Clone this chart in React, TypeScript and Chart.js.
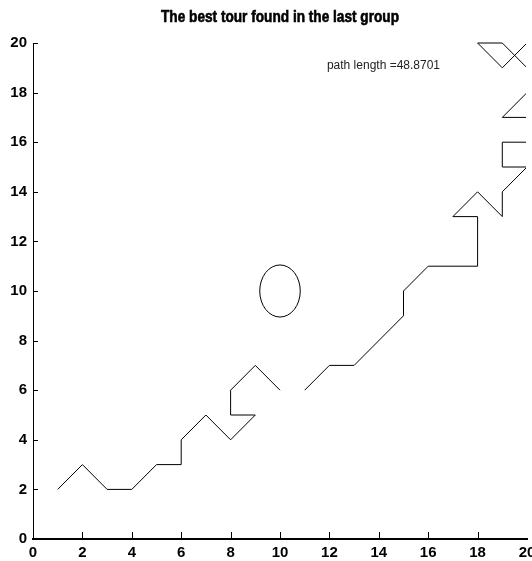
import React, { useEffect, useRef } from "react";
import { Chart, registerables } from "chart.js";

Chart.register(...registerables);

// Tour coordinates (null = break in the drawn path)
const tourX: (number | null)[] = [1, 2, 3, 4, 5, 6, 6, 7, 8, 9, 8, 8, 9, 10, null, 11, 12, 13, 15, 15, 16, 18, 18, 17, 18, 19, 19, 20, 19, 19, 20, 20, 19, 20, 20, 19, 18, 19, 20];
const tourY: (number | null)[] = [2, 3, 2, 2, 3, 3, 4, 5, 4, 5, 5, 6, 7, 6, null, 6, 7, 7, 9, 10, 11, 11, 13, 13, 14, 13, 14, 15, 15, 16, 16, 17, 17, 18, 19, 20, 20, 19, 20];

// Marker ellipse (data units)
const circleCenter = [10, 10];
const circleRadius = [0.82, 1.05];

const xTicks = [0, 2, 4, 6, 8, 10, 12, 14, 16, 18, 20];
const yTicks = [0, 2, 4, 6, 8, 10, 12, 14, 16, 18, 20];

const titleText = "The best tour found in the last group";
const pathLabel = "path length =48.8701";
const pathLabelPos = [11.9, 19.1];

const tickFont = "'Liberation Sans', Arial, sans-serif";

export default function App() {
  const ref = useRef<HTMLCanvasElement | null>(null);

  useEffect(() => {
    const canvas = ref.current;
    if (!canvas) return;

    const points = tourX.map((x, i) => ({ x: x as any, y: tourY[i] as any }));

    const extras = {
      id: "extras",
      afterDatasetsDraw(chart: any) {
        const ctx = chart.ctx;
        const xs = chart.scales.x;
        const ys = chart.scales.y;
        const cx = xs.getPixelForValue(circleCenter[0]);
        const cy = ys.getPixelForValue(circleCenter[1]);
        const rx = Math.abs(xs.getPixelForValue(circleCenter[0] + circleRadius[0]) - cx);
        const ry = Math.abs(ys.getPixelForValue(circleCenter[1] + circleRadius[1]) - cy);
        ctx.save();
        ctx.strokeStyle = "#000";
        ctx.lineWidth = 1;
        ctx.beginPath();
        ctx.ellipse(cx, cy, rx, ry, 0, 0, Math.PI * 2);
        ctx.stroke();
        ctx.restore();
      },
      afterDraw(chart: any) {
        const ctx = chart.ctx;
        const xs = chart.scales.x;
        const ys = chart.scales.y;
        const area = chart.chartArea;
        ctx.save();
        ctx.strokeStyle = "#000";
        ctx.lineWidth = 1;
        xTicks.forEach((v) => {
          if (v === 0 || v === 20) return;
          const px = Math.round(xs.getPixelForValue(v)) + 0.5;
          ctx.beginPath();
          ctx.moveTo(px, area.bottom);
          ctx.lineTo(px, area.bottom - 7);
          ctx.stroke();
        });
        yTicks.forEach((v) => {
          if (v === 0) return;
          const py = Math.round(ys.getPixelForValue(v)) + 0.5;
          ctx.beginPath();
          ctx.moveTo(area.left, py);
          ctx.lineTo(area.left + 5, py);
          ctx.stroke();
        });
        // title, horizontally condensed
        ctx.fillStyle = "#000";
        ctx.font = `bold 16px ${tickFont}`;
        ctx.textAlign = "center";
        ctx.textBaseline = "middle";
        const w = ctx.measureText(titleText).width;
        const sx = 238 / w;
        ctx.save();
        ctx.translate((area.left + area.right) / 2, 18);
        ctx.scale(sx, 1);
        ctx.fillText(titleText, 0, 0);
        ctx.lineWidth = 0.6;
        ctx.strokeStyle = "#000";
        ctx.strokeText(titleText, 0, 0);
        ctx.restore();
        // path length label
        ctx.font = "12px 'Liberation Sans', Arial, sans-serif";
        ctx.textAlign = "left";
        ctx.fillStyle = "#222";
        ctx.fillText(pathLabel, xs.getPixelForValue(pathLabelPos[0]), ys.getPixelForValue(pathLabelPos[1]));
        ctx.restore();
      },
    };

    const chart = new Chart(canvas, {
      type: "scatter",
      data: {
        datasets: [
          {
            data: points,
            showLine: true,
            spanGaps: false,
            borderColor: "#000",
            borderWidth: 1,
            pointRadius: 0,
            fill: false,
            clip: { left: 5, top: 5, right: -1, bottom: 5 },
          },
        ],
      },
      options: {
        responsive: false,
        animation: false,
        layout: { padding: { top: 43, right: 5, left: 0, bottom: 0 } },
        plugins: {
          legend: { display: false },
          tooltip: { enabled: false },
          title: { display: false },
        },
        scales: {
          x: {
            type: "linear",
            min: 0,
            max: 20,
            afterBuildTicks: (s: any) => {
              s.ticks = xTicks.map((v) => ({ value: v }));
            },
            afterFit: (s: any) => {
              s.height = 22;
              s.paddingLeft = 0;
              s.paddingRight = 0;
            },
            grid: { display: false, drawTicks: false },
            border: { display: true, color: "#000", width: 2 },
            ticks: {
              padding: 5,
              color: "#000",
              maxRotation: 0,
              autoSkip: false,
              font: { family: tickFont, size: 15, weight: "bold" },
            },
          },
          y: {
            type: "linear",
            min: 0,
            max: 20,
            afterBuildTicks: (s: any) => {
              s.ticks = yTicks.map((v) => ({ value: v }));
            },
            afterFit: (s: any) => {
              s.width = 33;
              s.paddingTop = 0;
              s.paddingBottom = 0;
            },
            grid: { display: false, drawTicks: false },
            border: { display: true, color: "#000", width: 1 },
            ticks: {
              padding: 6,
              color: "#000",
              autoSkip: false,
              font: { family: tickFont, size: 15, weight: "bold" },
            },
          },
        },
      },
      plugins: [extras],
    } as any);

    return () => chart.destroy();
  }, []);

  return (
    <div style={{ position: "absolute", left: 0, top: 0, width: 532, height: 561, background: "#fff" }}>
      <canvas ref={ref} width={532} height={561} style={{ width: 532, height: 561 }} />
    </div>
  );
}
